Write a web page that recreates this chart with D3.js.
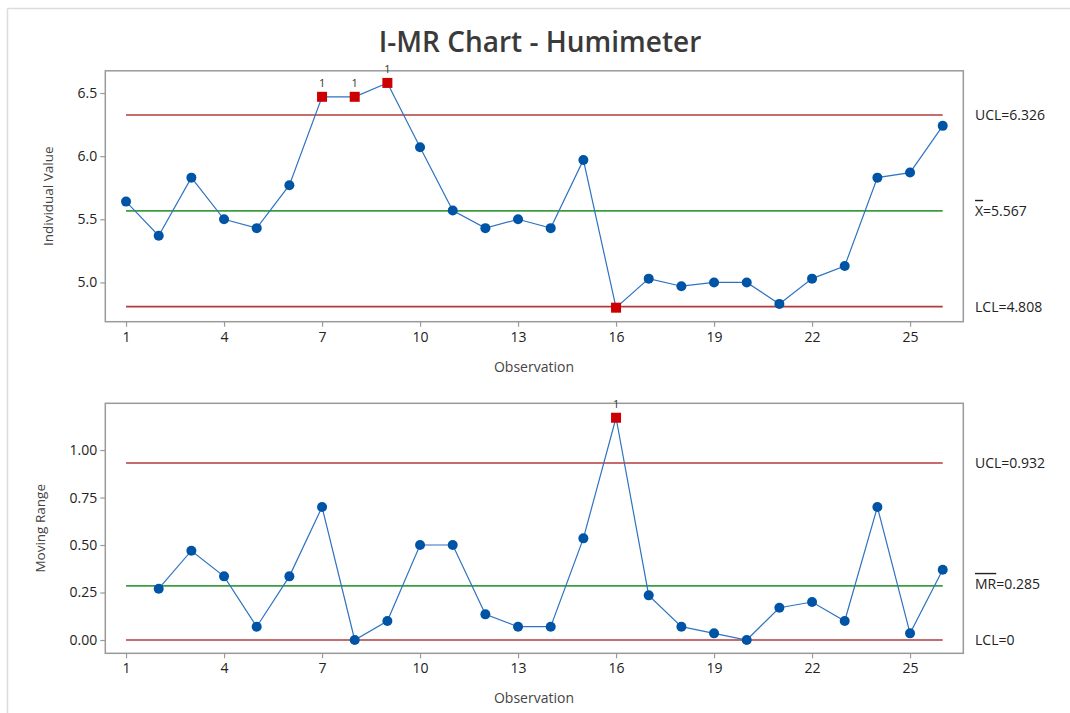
<!DOCTYPE html>
<html><head><meta charset="utf-8">
<script src="https://cdn.jsdelivr.net/npm/d3@7"></script>
<style>
body{margin:0;background:#fff;}
text{font-family:"Open Sans","Noto Sans",sans-serif;}
</style></head>
<body><svg id="c" width="1070" height="713"></svg>
<script>
// ---- data ----
const observations = d3.range(1, 27);
const individualValues = [5.64,5.37,5.83,5.50,5.43,5.77,6.47,6.47,6.58,6.07,5.57,5.43,5.50,5.43,5.97,4.80,5.03,4.97,5.00,5.00,4.83,5.03,5.13,5.83,5.87,6.24];
const movingRanges = [null,0.27,0.47,0.335,0.07,0.335,0.70,0.00,0.10,0.50,0.50,0.135,0.07,0.07,0.535,1.17,0.235,0.07,0.035,0.00,0.17,0.20,0.10,0.70,0.035,0.37];
const iLimits = {ucl:6.326, center:5.567, lcl:4.808};
const mrLimits = {ucl:0.932, center:0.285, lcl:0};
const iOut = [7,8,9,16];
const mrOut = [16];
const iTop = [7,8,9];       // labels "1"
const mrTop = [16];
const xTicks = [1,4,7,10,13,16,19,22,25];
const iYTicks = [5.0,5.5,6.0,6.5];
const mrYTicks = [0.00,0.25,0.50,0.75,1.00];

const svg = d3.select("#c");
const BLUE="#0054a6", LINE="#2f73c0", RED="#cc0000", CL_RED="#b23b3b", CL_GREEN="#3c9c42", FRAME="#9a9a9a";

// figure border
svg.append("line").attr("x1",7.5).attr("x2",1070).attr("y1",8.5).attr("y2",8.5).attr("stroke","#dcdcdc").attr("stroke-width",1.5);
svg.append("line").attr("x1",7.5).attr("x2",7.5).attr("y1",8.5).attr("y2",713).attr("stroke","#dcdcdc").attr("stroke-width",1.5);

svg.append("text").attr("x",540).attr("y",52).attr("text-anchor","middle")
  .attr("font-size",28).attr("font-weight",600).attr("fill","#3a3a3a").text("I-MR Chart - Humimeter");

const x = d3.scaleLinear().domain([0.365, 26.63]).range([105.3, 963.3]);

function panel(cfg){
  const y = d3.scaleLinear().domain(cfg.domain).range([cfg.bottom, cfg.top]);
  const g = svg.append("g");
  // frame
  g.append("rect").attr("x",x.range()[0]).attr("y",cfg.top).attr("width",x.range()[1]-x.range()[0])
    .attr("height",cfg.bottom-cfg.top).attr("fill","none").attr("stroke",FRAME).attr("stroke-width",1.5);
  // axes
  const ya = g.append("g").attr("transform",`translate(${x.range()[0]},0)`)
    .call(d3.axisLeft(y).tickValues(cfg.yTicks).tickFormat(d3.format(cfg.fmt)).tickSize(5).tickPadding(3));
  const xa = g.append("g").attr("transform",`translate(0,${cfg.bottom})`)
    .call(d3.axisBottom(x).tickValues(xTicks).tickFormat(d3.format("d")).tickSize(5).tickPadding(5));
  [ya,xa].forEach(a=>{
    a.select(".domain").remove();
    a.selectAll(".tick line").attr("stroke",FRAME).attr("stroke-width",1.2);
    a.selectAll(".tick text").attr("font-size",14).attr("fill","#222").attr("font-family","'Open Sans',sans-serif");
  });
  // axis titles
  g.append("text").attr("x",534).attr("y",cfg.bottom+50).attr("text-anchor","middle")
    .attr("font-size",14).attr("fill","#444").text("Observation");
  g.append("text").attr("transform",`translate(${cfg.ytitleX},${(cfg.top+cfg.bottom)/2}) rotate(-90)`)
    .attr("text-anchor","middle").attr("font-size",13.5).attr("fill","#444").text(cfg.ytitle);
  // control lines
  const lim = cfg.limits;
  [["ucl",CL_RED],["center",CL_GREEN],["lcl",CL_RED]].forEach(([k,c])=>{
    g.append("line").attr("x1",x(1)).attr("x2",x(26)).attr("y1",y(lim[k])).attr("y2",y(lim[k]))
      .attr("stroke",c).attr("stroke-width",1.6);
  });
  // right labels
  cfg.labels.forEach(l=>{
    const t = g.append("text").attr("x",975).attr("y",y(lim[l.k])+5+(l.dy||0)).attr("font-size",14).attr("fill","#222");
    if(l.bar){ t.append("tspan").style("text-decoration","overline").text(l.bar); }
    t.append("tspan").text(l.text);
  });
  // data
  const pts = observations.map((o,i)=>({o, v:cfg.values[i]})).filter(d=>d.v!==null);
  g.append("path").datum(pts).attr("fill","none").attr("stroke",LINE).attr("stroke-width",1.2)
    .attr("d",d3.line().x(d=>x(d.o)).y(d=>y(d.v)));
  g.selectAll("circle").data(pts.filter(d=>!cfg.out.includes(d.o))).join("circle")
    .attr("cx",d=>x(d.o)).attr("cy",d=>y(d.v)).attr("r",5).attr("fill",BLUE);
  g.selectAll("rect.out").data(pts.filter(d=>cfg.out.includes(d.o))).join("rect").attr("class","out")
    .attr("x",d=>x(d.o)-5).attr("y",d=>y(d.v)-5).attr("width",10).attr("height",10).attr("fill",RED);
  g.selectAll("text.flag").data(pts.filter(d=>cfg.flags.includes(d.o))).join("text").attr("class","flag")
    .attr("x",d=>x(d.o)).attr("y",d=>y(d.v)-10).attr("text-anchor","middle").attr("font-size",11).attr("fill","#333").text("1");
}

panel({top:70.8, bottom:321.7, domain:[4.689,6.676], yTicks:iYTicks, fmt:".1f", values:individualValues,
  limits:iLimits, out:iOut, flags:iTop, ytitle:"Individual Value", ytitleX:53,
  labels:[{k:"ucl",text:"UCL=6.326"},{k:"center",bar:"X",text:"=5.567"},{k:"lcl",text:"LCL=4.808"}]});

panel({top:403.3, bottom:653.3, domain:[-0.07,1.246], yTicks:mrYTicks, fmt:".2f", values:movingRanges,
  limits:mrLimits, out:mrOut, flags:mrTop, ytitle:"Moving Range", ytitleX:45,
  labels:[{k:"ucl",text:"UCL=0.932"},{k:"center",bar:"MR",text:"=0.285",dy:-2},{k:"lcl",text:"LCL=0"}]});
</script></body></html>
